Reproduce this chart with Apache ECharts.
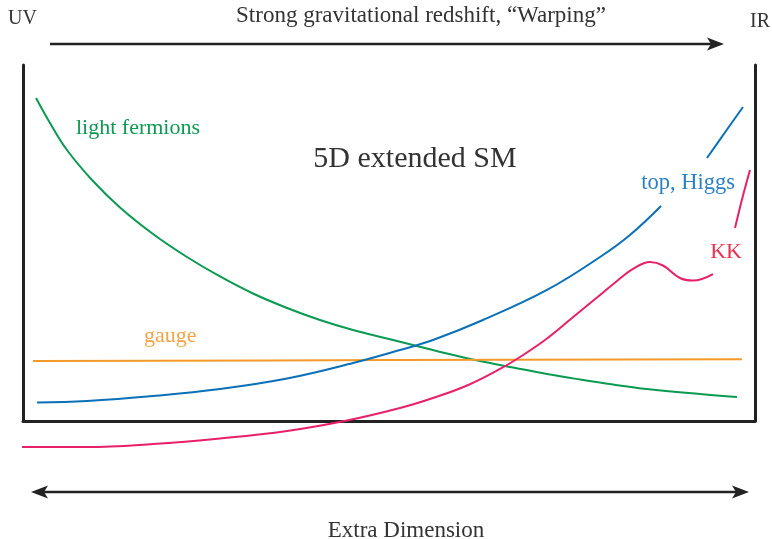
<!DOCTYPE html>
<html>
<head>
<meta charset="utf-8">
<script src="https://cdn.jsdelivr.net/npm/echarts@6/dist/echarts.min.js"></script>
<style>html,body{margin:0;padding:0;background:#fff}#c{width:772px;height:539px}</style>
</head>
<body>
<div id="c"></div>
<script>
// Data in box units: x 0..100 (UV -> IR), y 0..100 (box height)
var lightFermions = [[1.78,90.73],[3.69,83.71],[6.01,76.12],[9.43,67.70],[13.25,59.97],[17.76,52.53],[22.40,46.07],[26.91,40.59],[31.42,35.81],[36.07,31.74],[40.57,28.37],[45.08,25.56],[49.73,23.17],[53.28,21.35],[57.92,18.96],[62.43,16.85],[66.94,15.03],[71.58,13.20],[76.09,11.66],[80.60,10.25],[85.25,8.99],[92.49,7.58],[97.54,6.74]];
var topHiggsA = [[1.91,5.20],[8.74,5.62],[17.76,7.02],[26.91,8.99],[36.07,11.94],[45.08,16.29],[51.50,19.94],[56.01,22.75],[62.84,28.37],[71.58,36.80],[78.83,46.07],[82.92,52.25],[87.16,60.39]];
var topHiggsB = [[93.44,73.88],[96.13,81.74],[98.36,88.20]];
var gauge = [[1.37,16.85],[50.0,17.1],[98.22,17.33]];
var kkA = [[-0.14,-7.30],[8.74,-7.30],[17.76,-6.46],[26.91,-4.92],[36.07,-2.81],[44.26,0.14],[51.50,3.65],[56.01,6.46],[60.66,9.97],[65.16,14.61],[67.90,17.98],[71.31,22.75],[75.00,28.93],[78.83,35.39],[81.15,39.33],[83.33,42.70],[85.66,44.66],[87.43,43.68],[89.75,40.17],[91.53,39.47],[94.26,41.29]];
var kkB = [[97.27,54.21],[98.32,63.0],[99.32,70.51]];

var titleText = 'Strong gravitational redshift, \u201cWarping\u201d';
var xLabel = 'Extra Dimension';

var C_GREEN = '#0a9a52', C_BLUE = '#0a70b8', C_ORANGE = '#f39a2b', C_PINK = '#e8206a';
var FONT = '"Liberation Serif", "DejaVu Serif", serif';

function ln(data, color) {
  return { type: 'line', data: data, smooth: 0.4, showSymbol: false, symbol: 'none', clip: false,
    lineStyle: { color: color, width: 2 }, silent: true };
}

var chart = echarts.init(document.getElementById('c'), null, { renderer: 'canvas' });
var axisLine = { show: true, lineStyle: { color: '#222', width: 3 } };
chart.setOption({
  animation: false,
  backgroundColor: '#fff',
  grid: { left: 23, right: 17, top: 65, bottom: 118 },
  xAxis: { type: 'value', min: 0, max: 100, axisLine: axisLine, axisTick: { show: false }, axisLabel: { show: false }, splitLine: { show: false } },
  yAxis: [
    { type: 'value', min: 0, max: 100, position: 'left', axisLine: axisLine, axisTick: { show: false }, axisLabel: { show: false }, splitLine: { show: false } },
    { type: 'value', min: 0, max: 100, position: 'right', axisLine: axisLine, axisTick: { show: false }, axisLabel: { show: false }, splitLine: { show: false } }
  ],
  series: [
    ln(lightFermions, C_GREEN),
    ln(gauge, C_ORANGE),
    ln(topHiggsA, C_BLUE), ln(topHiggsB, C_BLUE),
    ln(kkA, C_PINK), ln(kkB, C_PINK)
  ],
  graphic: [
    // top arrow
    { type: 'line', shape: { x1: 50, y1: 44, x2: 714, y2: 44 }, style: { stroke: '#222', lineWidth: 2.5 } },
    { type: 'polygon', shape: { points: [[724,44],[707,37.5],[711,44],[707,50.5]] }, style: { fill: '#222' } },
    // bottom double arrow
    { type: 'line', shape: { x1: 40, y1: 492, x2: 740, y2: 492 }, style: { stroke: '#222', lineWidth: 2.5 } },
    { type: 'polygon', shape: { points: [[749,492],[732,485.5],[736,492],[732,498.5]] }, style: { fill: '#222' } },
    { type: 'polygon', shape: { points: [[31,492],[48,485.5],[44,492],[48,498.5]] }, style: { fill: '#222' } },
    // texts
    { type: 'text', x: 8, y: 19, style: { text: 'UV', font: '20px ' + FONT, fill: '#333', verticalAlign: 'middle' } },
    { type: 'text', x: 770, y: 22, style: { text: 'IR', font: '20px ' + FONT, fill: '#333', align: 'right', verticalAlign: 'middle' } },
    { type: 'text', x: 421, y: 16, style: { text: titleText, font: '23px ' + FONT, fill: '#333', align: 'center', verticalAlign: 'middle' } },
    { type: 'text', x: 76, y: 128, style: { text: 'light fermions', font: '22px ' + FONT, fill: C_GREEN, verticalAlign: 'middle' } },
    { type: 'text', x: 415, y: 159, style: { text: '5D extended SM', font: '30px ' + FONT, fill: '#333', align: 'center', verticalAlign: 'middle' } },
    { type: 'text', x: 735, y: 183, style: { text: 'top, Higgs', font: '22.5px ' + FONT, fill: '#2a80c6', align: 'right', verticalAlign: 'middle' } },
    { type: 'text', x: 742, y: 252, style: { text: 'KK', font: '22px ' + FONT, fill: '#ee3050', align: 'right', verticalAlign: 'middle' } },
    { type: 'text', x: 144, y: 336, style: { text: 'gauge', font: '22px ' + FONT, fill: '#f4a444', verticalAlign: 'middle' } },
    { type: 'text', x: 406, y: 531, style: { text: xLabel, font: '23px ' + FONT, fill: '#333', align: 'center', verticalAlign: 'middle' } }
  ]
});
</script>
</body>
</html>
